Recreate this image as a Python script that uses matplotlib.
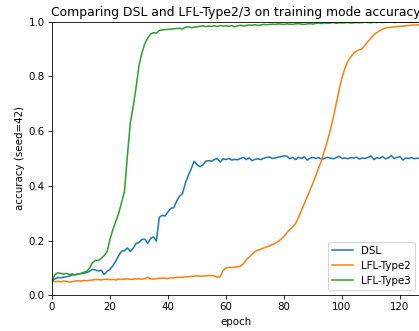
import numpy as np
import matplotlib
matplotlib.use("Agg")
import matplotlib.pyplot as plt

# accuracy per epoch, epochs 0..127
dsl = [
    0.050, 0.060, 0.065, 0.064, 0.066, 0.068, 0.070, 0.074, 0.076, 0.078,
    0.079, 0.081, 0.083, 0.088, 0.095, 0.092, 0.089, 0.092, 0.076, 0.088,
    0.095, 0.108, 0.125, 0.145, 0.161, 0.163, 0.173, 0.160, 0.172, 0.189,
    0.193, 0.204, 0.205, 0.190, 0.208, 0.213, 0.198, 0.285, 0.292, 0.290,
    0.305, 0.318, 0.320, 0.345, 0.362, 0.372, 0.410, 0.438, 0.462, 0.490,
    0.478, 0.470, 0.476, 0.490, 0.492, 0.490, 0.496, 0.500, 0.487, 0.499,
    0.496, 0.500, 0.494, 0.497, 0.495, 0.500, 0.504, 0.496, 0.502, 0.492,
    0.497, 0.499, 0.496, 0.501, 0.504, 0.505, 0.500, 0.502, 0.505, 0.507,
    0.510, 0.508, 0.499, 0.504, 0.496, 0.505, 0.500, 0.506, 0.494, 0.501,
    0.504, 0.500, 0.503, 0.497, 0.500, 0.504, 0.501, 0.499, 0.503, 0.508,
    0.500, 0.502, 0.499, 0.503, 0.501, 0.505, 0.498, 0.502, 0.500, 0.504,
    0.509, 0.496, 0.503, 0.500, 0.507, 0.499, 0.502, 0.510, 0.500, 0.504,
    0.507, 0.494, 0.502, 0.500, 0.503, 0.499, 0.501, 0.500,
]
lfl_type2 = [
    0.050, 0.050, 0.051, 0.049, 0.052, 0.051, 0.048, 0.050, 0.052, 0.053,
    0.052, 0.054, 0.053, 0.055, 0.056, 0.058, 0.057, 0.056, 0.058, 0.059,
    0.057, 0.058, 0.056, 0.059, 0.058, 0.059, 0.060, 0.058, 0.059, 0.060,
    0.060, 0.059, 0.061, 0.066, 0.060, 0.059, 0.061, 0.062, 0.063, 0.062,
    0.061, 0.064, 0.063, 0.066, 0.065, 0.066, 0.067, 0.068, 0.069, 0.070,
    0.071, 0.070, 0.070, 0.071, 0.072, 0.072, 0.071, 0.066, 0.068, 0.090,
    0.100, 0.102, 0.102, 0.103, 0.104, 0.106, 0.115, 0.130, 0.140, 0.150,
    0.160, 0.165, 0.168, 0.173, 0.177, 0.180, 0.185, 0.190, 0.197, 0.205,
    0.215, 0.228, 0.240, 0.250, 0.262, 0.285, 0.310, 0.335, 0.360, 0.385,
    0.410, 0.438, 0.465, 0.495, 0.530, 0.565, 0.605, 0.650, 0.700, 0.750,
    0.795, 0.830, 0.855, 0.870, 0.885, 0.893, 0.897, 0.902, 0.915, 0.928,
    0.940, 0.952, 0.960, 0.967, 0.973, 0.977, 0.979, 0.980, 0.981, 0.982,
    0.983, 0.984, 0.985, 0.986, 0.987, 0.988, 0.988, 0.989,
]
lfl_type3 = [
    0.050, 0.075, 0.082, 0.080, 0.078, 0.080, 0.076, 0.078, 0.074, 0.078,
    0.080, 0.084, 0.088, 0.100, 0.120, 0.128, 0.127, 0.135, 0.145, 0.160,
    0.205, 0.240, 0.270, 0.300, 0.340, 0.380, 0.510, 0.630, 0.690, 0.760,
    0.840, 0.885, 0.920, 0.940, 0.955, 0.960, 0.958, 0.968, 0.970, 0.971,
    0.972, 0.973, 0.974, 0.975, 0.976, 0.973, 0.980, 0.982, 0.978, 0.980,
    0.981, 0.983, 0.985, 0.982, 0.984, 0.983, 0.985, 0.982, 0.986, 0.984,
    0.985, 0.983, 0.986, 0.981, 0.985, 0.987, 0.984, 0.986, 0.988, 0.987,
    0.989, 0.986, 0.988, 0.990, 0.989, 0.990, 0.991, 0.990, 0.992, 0.991,
    0.990, 0.992, 0.991, 0.990, 0.992, 0.993, 0.991, 0.990, 0.992, 0.993,
    0.991, 0.994, 0.995, 0.993, 0.996, 0.994, 0.995, 0.997, 0.994, 0.996,
    0.995, 0.996, 0.997, 0.995, 0.996, 0.997, 0.996, 0.997, 0.998, 0.997,
    0.996, 0.998, 0.997, 0.998, 0.997, 0.998, 0.999, 0.998, 0.997, 0.998,
    0.999, 0.998, 0.998, 0.999, 0.998, 0.999, 0.999, 0.998,
]
epochs = np.arange(len(dsl))

DPI = 74.1  # reference looks like a default figure scaled down ~0.74
fig = plt.figure(figsize=(419 / DPI, 331 / DPI), dpi=DPI)
ax = fig.add_axes([0.1241, 0.1079, 0.879, 0.8266])

ax.plot(epochs, dsl, label="DSL")
ax.plot(epochs, lfl_type2, label="LFL-Type2")
ax.plot(epochs, lfl_type3, label="LFL-Type3")

ax.set_xlim(0, 127)
ax.set_ylim(0, 1.0)
ax.set_xlabel("epoch")
ax.set_ylabel("accuracy (seed=42)")
ax.set_title("Comparing DSL and LFL-Type2/3 on training mode accuracy")
ax.legend(loc="lower right")

fig.savefig("out.png", dpi=DPI)
